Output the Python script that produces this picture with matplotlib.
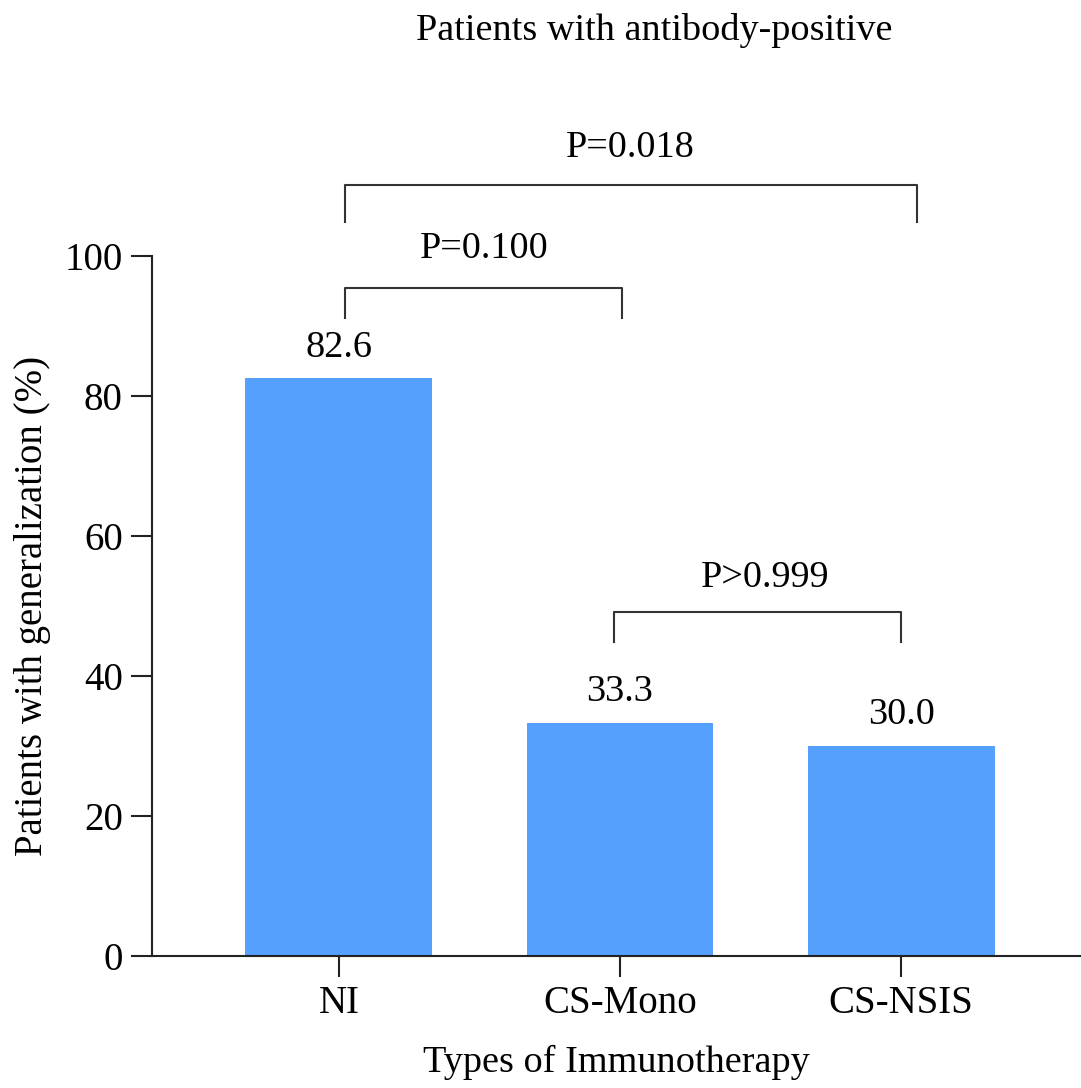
import matplotlib
matplotlib.use("Agg")
import matplotlib.pyplot as plt

plt.rcParams['font.family'] = ['Liberation Serif', 'DejaVu Serif']

groups = ['NI', 'CS-Mono', 'CS-NSIS']
values = [82.6, 33.3, 30.0]
value_labels = ['82.6', '33.3', '30.0']

# comparisons: (left group, right group, label)
comparisons = [(0, 2, 'P=0.018'), (0, 1, 'P=0.100'), (1, 2, 'P>0.999')]

bar_color = '#559FFD'
fs = 27.5

fig = plt.figure(figsize=(10.81, 10.88), dpi=100)
ax = fig.add_axes([0.1406, 0.1213, 0.8594, 0.6434])

x = range(len(groups))
ax.bar(x, values, width=0.665, color=bar_color)

ax.set_xlim(-0.665, 2.64)
ax.set_ylim(0, 100)
ax.set_yticks([0, 20, 40, 60, 80, 100])
ax.set_xticks(list(x))
ax.set_xticklabels(groups)

for s in ['top', 'right']:
    ax.spines[s].set_visible(False)
for s in ['left', 'bottom']:
    ax.spines[s].set_linewidth(1.5)
    ax.spines[s].set_color('#222222')
ax.tick_params(axis='both', length=15, width=1.5, color='#222222', labelsize=28, pad=6)

# value labels above bars
label_y = [86.9, 37.7, 34.4]
for i, (v, t) in enumerate(zip(values, value_labels)):
    ax.text(i, label_y[i], t, ha='center', va='center', fontsize=fs)

# significance brackets (tops and leg bottoms in data units)
br_top = [110.1, 95.5, 49.1]
br_bot = [104.9, 91.1, 44.8]
br_x = [(0.021, 2.056), (0.021, 1.007), (0.979, 2.0)]
txt_pos = [(1.036, 115.4), (0.516, 101.1), (1.516, 54.1)]
for k, (a, b, lab) in enumerate(comparisons):
    x0, x1 = br_x[k]
    ax.plot([x0, x0, x1, x1], [br_bot[k], br_top[k], br_top[k], br_bot[k]],
            color='#333333', lw=1.5, clip_on=False)
    ax.text(txt_pos[k][0], txt_pos[k][1], lab, ha='center', va='center', fontsize=fs, clip_on=False)

ax.set_ylabel('Patients with generalization (%)', fontsize=28, labelpad=10)
ax.set_xlabel('Types of Immunotherapy', fontsize=fs, labelpad=16)
fig.text(0.605, 1 - 31 / 1088, 'Patients with antibody-positive', ha='center', va='center', fontsize=fs)

fig.savefig('out.png', dpi=100)
